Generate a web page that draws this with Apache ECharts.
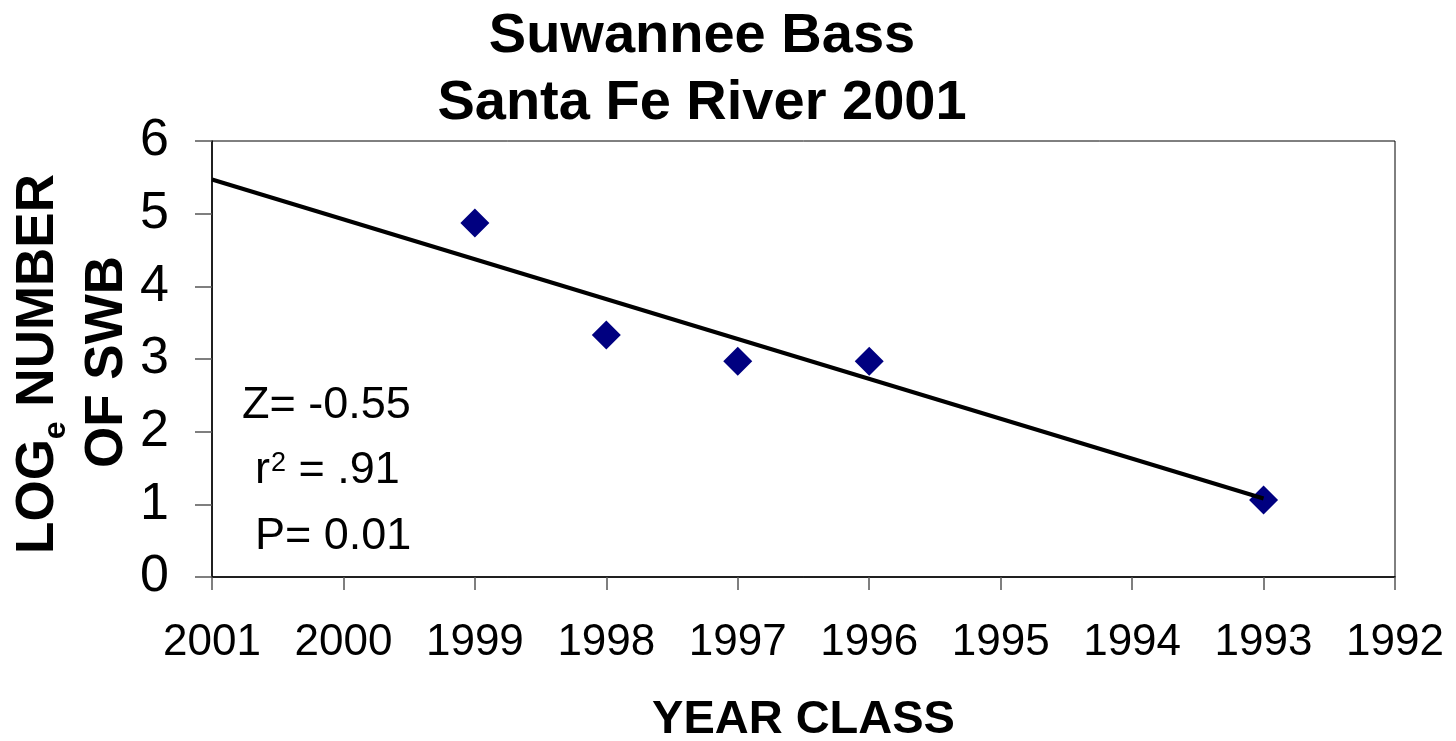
<!DOCTYPE html>
<html>
<head>
<meta charset="utf-8">
<script src="https://cdn.jsdelivr.net/npm/echarts@6/dist/echarts.min.js"></script>
<style>
  html, body { margin: 0; padding: 0; background: #fff; }
  #chart { width: 1456px; height: 741px; }
</style>
</head>
<body>
<div id="chart"></div>
<script>
var years = [1999, 1998, 1997, 1996, 1993];
var logNumbers = [4.87, 3.33, 2.97, 2.97, 1.06];
var trendYears = [2001, 1993];
var trendValues = [5.47, 1.08];
var yTicks = [0, 1, 2, 3, 4, 5, 6];
var xTicks = [2001, 2000, 1999, 1998, 1997, 1996, 1995, 1994, 1993, 1992];

var font = 'Liberation Sans, Arial, sans-serif';
var chart = echarts.init(document.getElementById('chart'));

var points = [];
for (var i = 0; i < years.length; i++) {
    points.push([years[i], logNumbers[i]]);
}
var trend = [];
for (var j = 0; j < trendYears.length; j++) {
    trend.push([trendYears[j], trendValues[j]]);
}

var option = {
    backgroundColor: '#fff',
    animation: false,
    title: {
        text: 'Suwannee Bass\nSanta Fe River 2001',
        left: 697,
        top: -2,
        textAlign: 'center',
        textStyle: {
            fontFamily: font,
            fontWeight: 'bold',
            fontSize: 56,
            lineHeight: 67,
            color: '#000'
        }
    },
    grid: {
        left: 212,
        right: 61,
        top: 141,
        bottom: 164,
        outerBoundsMode: 'none',
        containLabel: false,
        show: true,
        borderColor: '#000',
        borderWidth: 1,
        backgroundColor: 'transparent'
    },
    xAxis: {
        type: 'value',
        inverse: true,
        min: xTicks[xTicks.length - 1],
        max: xTicks[0],
        interval: 1,
        name: 'YEAR CLASS',
        nameLocation: 'middle',
        nameGap: 120,
        nameTextStyle: {fontFamily: font, fontWeight: 'bold', fontSize: 47, color: '#000'},
        axisLine: {lineStyle: {color: '#000', width: 1.5}},
        axisTick: {show: true, length: 13, lineStyle: {color: '#555', width: 1.5}},
        axisLabel: {
            fontFamily: font, fontSize: 44, color: '#000', margin: 44,
            formatter: function (v) { return String(v); }
        },
        splitLine: {show: false}
    },
    yAxis: {
        type: 'value',
        min: yTicks[0],
        max: yTicks[yTicks.length - 1],
        interval: 1,
        axisLine: {show: true, lineStyle: {color: '#000', width: 1.5}},
        axisTick: {show: true, length: 17, lineStyle: {color: '#555', width: 1.5}},
        axisLabel: {fontFamily: font, fontSize: 52, color: '#000', margin: 43},
        splitLine: {show: false}
    },
    series: [
        {
            type: 'scatter',
            data: points,
            symbol: 'diamond',
            symbolSize: 29,
            itemStyle: {color: '#000080', opacity: 1},
            z: 2
        },
        {
            type: 'line',
            data: trend,
            showSymbol: false,
            symbol: 'none',
            lineStyle: {color: '#000', width: 4},
            z: 3
        }
    ],
    graphic: [
        {
            type: 'text', x: 38, y: 364, rotation: Math.PI / 2,
            style: {
                text: '{b|LOG}{s|e}{b| NUMBER}',
                align: 'center', verticalAlign: 'middle',
                rich: {
                    b: {fontFamily: font, fontWeight: 'bold', fontSize: 53, fill: '#000'},
                    s: {fontFamily: font, fontWeight: 'bold', fontSize: 32, fill: '#000', verticalAlign: 'bottom', padding: [0, 0, -8, 0]}
                }
            }
        },
        {
            type: 'text', x: 107, y: 362, rotation: Math.PI / 2,
            style: {
                text: 'OF SWB',
                align: 'center', verticalAlign: 'middle',
                font: 'bold 53px ' + font, fill: '#000'
            }
        },
        {
            type: 'text', x: 242, y: 406,
            style: {text: 'Z= -0.55', verticalAlign: 'middle', font: '45px ' + font, fill: '#000'}
        },
        {
            type: 'text', x: 255, y: 471,
            style: {
                text: '{a|r}{s|2}{a| = .91}',
                verticalAlign: 'middle',
                rich: {
                    a: {fontFamily: font, fontSize: 45, fill: '#000'},
                    s: {fontFamily: font, fontSize: 27, fill: '#000', verticalAlign: 'top', padding: [2, 0, 0, 1]}
                }
            }
        },
        {
            type: 'text', x: 255, y: 537,
            style: {text: 'P= 0.01', verticalAlign: 'middle', font: '45px ' + font, fill: '#000'}
        }
    ]
};

chart.setOption(option);
window.onresize = function () {
    chart.resize();
};
</script>
</body>
</html>
